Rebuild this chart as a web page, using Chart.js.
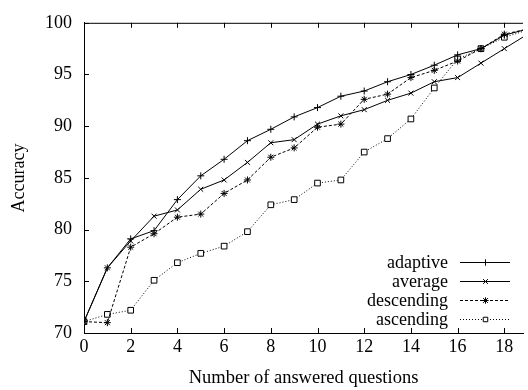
<!DOCTYPE html>
<html>
<head>
<meta charset="utf-8">
<script src="https://cdn.jsdelivr.net/npm/chart.js@4/dist/chart.umd.min.js"></script>
<style>
  html, body { margin: 0; padding: 0; background: #fff; }
  #wrap { width: 528px; height: 390px; }
</style>
</head>
<body>
<div id="wrap"><canvas id="acc"></canvas></div>
<script>
// number of answered questions
const questions = [0, 1, 2, 3, 4, 5, 6, 7, 8, 9, 10, 11, 12, 13, 14, 15, 16, 17, 18, 19];

const adaptive   = [71.1, 76.3, 79.1, 79.9, 82.9, 85.2, 86.8, 88.6, 89.7, 90.9, 91.8, 92.9, 93.4, 94.3, 95.0, 95.9, 96.9, 97.5, 98.8, 99.4];
const average    = [71.1, 76.3, 78.9, 81.3, 81.9, 83.9, 84.8, 86.5, 88.4, 88.7, 90.2, 91.0, 91.6, 92.5, 93.2, 94.3, 94.7, 96.1, 97.5, 98.9];
const descending = [71.1, 71.0, 78.3, 79.6, 81.2, 81.5, 83.5, 84.8, 87.0, 87.9, 89.9, 90.2, 92.6, 93.1, 94.7, 95.4, 96.3, 97.5, 98.9, 99.4];
const ascending  = [71.1, 71.8, 72.2, 75.1, 76.8, 77.7, 78.4, 79.8, 82.4, 82.9, 84.5, 84.8, 87.5, 88.8, 90.7, 93.7, 96.5, 97.5, 98.6, 99.3];

const seriesNames = ['adaptive', 'average', 'descending', 'ascending'];
const xTicks = [0, 2, 4, 6, 8, 10, 12, 14, 16, 18];
const yTicks = [70, 75, 80, 85, 90, 95, 100];

const FONT = 'Liberation Serif';

function pts(vals) {
    return questions.map((q, i) => ({ x: q, y: vals[i] }));
}

const styles = [
    { dash: [],     point: 'cross' },
    { dash: [],     point: 'crossRot' },
    { dash: [3, 2], point: 'star' },
    { dash: [1, 2], point: 'rect' }
];

const allSeries = [adaptive, average, descending, ascending];

const datasets = allSeries.map((vals, i) => ({
    label: seriesNames[i],
    data: pts(vals),
    borderColor: '#000',
    backgroundColor: '#fff',
    borderWidth: 1,
    borderDash: styles[i].dash,
    pointStyle: styles[i].point,
    pointRadius: styles[i].point === 'rect' ? 4 : 3.5,
    pointBorderWidth: 1,
    pointBorderColor: '#000',
    pointBackgroundColor: '#fff',
    tension: 0
}));

// small marker drawing for the legend samples
function marker(ctx, style, x, y, r) {
    ctx.beginPath();
    if (style === 'cross' || style === 'star') {
        ctx.moveTo(x - r, y); ctx.lineTo(x + r, y);
        ctx.moveTo(x, y - r); ctx.lineTo(x, y + r);
    }
    if (style === 'crossRot' || style === 'star') {
        const d = r * 0.75;
        ctx.moveTo(x - d, y - d); ctx.lineTo(x + d, y + d);
        ctx.moveTo(x - d, y + d); ctx.lineTo(x + d, y - d);
    }
    if (style === 'rect') {
        const s = r / Math.SQRT2;
        ctx.fillStyle = '#fff';
        ctx.fillRect(x - s, y - s, 2 * s, 2 * s);
        ctx.rect(x - s, y - s, 2 * s, 2 * s);
    }
    ctx.stroke();
}

// gnuplot-like frame: inward ticks, top border, legend bottom right
const frame = {
    id: 'frame',
    afterDraw(chart) {
        const { ctx, chartArea: a, scales } = chart;
        ctx.save();
        ctx.strokeStyle = '#000';
        ctx.lineWidth = 1;
        ctx.setLineDash([]);
        ctx.beginPath();
        ctx.moveTo(a.left, a.top + 0.5);
        ctx.lineTo(a.right, a.top + 0.5);
        xTicks.forEach(v => {
            const px = Math.round(scales.x.getPixelForValue(v)) + 0.5;
            ctx.moveTo(px, a.bottom); ctx.lineTo(px, a.bottom - 5);
            ctx.moveTo(px, a.top); ctx.lineTo(px, a.top + 5);
        });
        yTicks.forEach(v => {
            const py = Math.round(scales.y.getPixelForValue(v)) + 0.5;
            ctx.moveTo(a.left, py); ctx.lineTo(a.left + 5, py);
        });
        ctx.stroke();

        // legend
        ctx.font = '18px "' + FONT + '"';
        ctx.fillStyle = '#000';
        ctx.textAlign = 'right';
        ctx.textBaseline = 'middle';
        const rowY = [262.5, 281.5, 300.5, 319.5];
        chart.data.datasets.forEach((ds, i) => {
            const y = rowY[i];
            ctx.fillText(ds.label, 448, y + 1);
            ctx.setLineDash(ds.borderDash);
            ctx.beginPath();
            ctx.moveTo(460, y); ctx.lineTo(510, y);
            ctx.stroke();
            ctx.setLineDash([]);
            marker(ctx, ds.pointStyle, 485.5, y, 3.2);
        });
        ctx.restore();
    }
};

const ctx = document.getElementById('acc').getContext('2d');
const myChart = new Chart(ctx, {
    type: 'line',
    data: { datasets: datasets },
    options: {
        responsive: true,
        maintainAspectRatio: false,
        animation: false,
        layout: { padding: { top: 12, right: 0, bottom: 0, left: 0 } },
        plugins: {
            legend: { display: false },
            tooltip: { enabled: false }
        },
        scales: {
            x: {
                type: 'linear',
                min: 0,
                max: 18.8,
                afterFit: s => { s.height = 57; },
                afterBuildTicks: s => { s.ticks = xTicks.map(v => ({ value: v })); },
                grid: { display: false, drawTicks: false },
                border: { display: true, color: '#000', width: 1 },
                ticks: { color: '#000', padding: 3, maxRotation: 0, font: { family: FONT, size: 18 } },
                title: {
                    display: true,
                    text: 'Number of answered questions',
                    color: '#000',
                    font: { family: FONT, size: 18.5 },
                    padding: { top: 0, bottom: 1 }
                }
            },
            y: {
                min: 70,
                max: 100,
                afterFit: s => { s.width = 84; },
                afterBuildTicks: s => { s.ticks = yTicks.map(v => ({ value: v })); },
                grid: { display: false, drawTicks: false },
                border: { display: true, color: '#000', width: 1 },
                ticks: { color: '#000', padding: 12, font: { family: FONT, size: 18 } },
                title: {
                    display: true,
                    text: 'Accuracy',
                    color: '#000',
                    font: { family: FONT, size: 18 },
                    padding: { top: 8, bottom: 0 }
                }
            }
        }
    },
    plugins: [frame]
});
</script>
</body>
</html>
